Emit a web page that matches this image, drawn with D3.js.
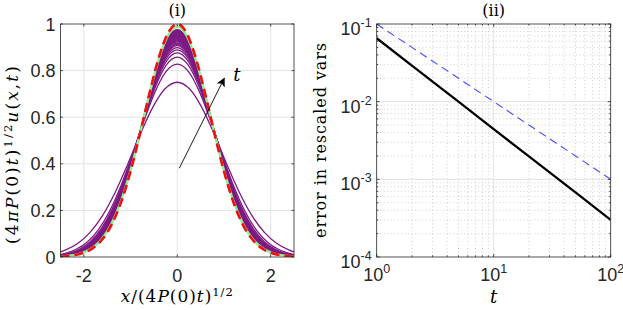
<!DOCTYPE html>
<html><head><meta charset="utf-8">
<script src="https://cdn.jsdelivr.net/npm/d3@7"></script>
<style>body{margin:0;background:#fff}svg{display:block}</style>
</head><body>
<svg id="c" width="623" height="310"></svg>
<script>
// ---------- data ----------
// peak heights of the purple profiles (earliest to latest t)
const peakHeights = [0.750,0.828,0.858,0.876,0.889,0.899,0.907,0.913,0.918,0.923,0.927,0.931,0.934,0.937,0.940,0.943,0.945,0.948,0.950,0.952,0.954,0.956,0.958,0.960,0.962,0.964,0.966,0.968,0.970,0.972,0.974,0.976];
const greenPeak = 0.988;   // light green profile
const redPeak = 1.0;       // red dashed limit profile
// shape of the limit profile (|x| samples and heights)
const profileX = [0,0.2,0.4,0.6,0.8,1.0,1.2,1.4,1.6,1.8,2.0,2.2,2.4,2.6,2.8,3.0,3.4];
const profileY = [1,0.961,0.852,0.698,0.527,0.368,0.237,0.141,0.077,0.039,0.018,0.008,0.003,0.0012,0.0004,0.0001,0.0];
// panel (ii)
const tVals   = [1, 2, 5, 10, 20, 50, 100];
const errVals = [0.0655, 0.0291, 0.0100, 0.00444, 0.00197, 0.00068, 0.00030];
const refVals = [0.1, 0.05, 0.02, 0.01, 0.005, 0.002, 0.001];
// ticks
const xTicksL = [-2, 0, 2];
const yTicksL = [0, 0.2, 0.4, 0.6, 0.8, 1];
const xTicksR = [1, 10, 100];
const xExpR = ["0", "1", "2"];
const yTicksR = [1e-4, 1e-3, 1e-2, 1e-1];
const yExpR = ["-4", "-3", "-2", "-1"];

// ---------- layout ----------
const svg = d3.select("#c");
const axisCol = "#262626";
const gridCol = "#e3e3e3";
const tickFont = "'Liberation Sans', Arial, Helvetica, sans-serif";
const serif = "'DejaVu Serif', 'Liberation Serif', serif";

const L = {x0: 60.5, x1: 294, y0: 24, y1: 257};
const R = {x0: 376.7, x1: 610.7, y0: 24, y1: 257};

const xL = d3.scaleLinear().domain([-2.5, 2.5]).range([L.x0, L.x1]);
const yL = d3.scaleLinear().domain([0, 1]).range([L.y1, L.y0]);
const xR = d3.scaleLog().domain([1, 100]).range([R.x0, R.x1]);
const yR = d3.scaleLog().domain([1e-4, 1e-1]).range([R.y1, R.y0]);

const defs = svg.append("defs");
defs.append("clipPath").attr("id", "clipL").append("rect")
  .attr("x", L.x0).attr("y", L.y0 - 2).attr("width", L.x1 - L.x0).attr("height", L.y1 - L.y0 + 2);
defs.append("clipPath").attr("id", "clipR").append("rect")
  .attr("x", R.x0).attr("y", R.y0).attr("width", R.x1 - R.x0).attr("height", R.y1 - R.y0);
defs.append("marker").attr("id", "arrowHead").attr("viewBox", "0 0 10 10")
  .attr("refX", 9).attr("refY", 5).attr("markerWidth", 9).attr("markerHeight", 9)
  .attr("markerUnits", "userSpaceOnUse").attr("orient", "auto")
  .append("path").attr("d", "M0,0 L10,5 L0,10 L2.5,5 Z").attr("fill", "#000");

// ---------- panel (i) ----------
const gL = svg.append("g");
gL.selectAll(".gx").data(xTicksL).join("line")
  .attr("x1", d => xL(d)).attr("x2", d => xL(d)).attr("y1", L.y0).attr("y2", L.y1)
  .attr("stroke", gridCol).attr("stroke-width", 1);
gL.selectAll(".gy").data(yTicksL.filter(d => d > 0 && d < 1)).join("line")
  .attr("x1", L.x0).attr("x2", L.x1).attr("y1", d => yL(d)).attr("y2", d => yL(d))
  .attr("stroke", gridCol).attr("stroke-width", 1);

function profilePoints(a) {
  const pts = [];
  for (let i = profileX.length - 1; i > 0; i--) pts.push([-profileX[i] / a, a * profileY[i]]);
  for (let i = 0; i < profileX.length; i++) pts.push([profileX[i] / a, a * profileY[i]]);
  return pts;
}
const lineL = d3.line().x(d => xL(d[0])).y(d => yL(d[1])).curve(d3.curveMonotoneX);
const curves = gL.append("g").attr("clip-path", "url(#clipL)");
curves.selectAll(".purple").data(peakHeights).join("path")
  .attr("d", a => lineL(profilePoints(a)))
  .attr("fill", "none").attr("stroke", "#7e1a84").attr("stroke-width", 1.3);
curves.append("path").attr("d", lineL(profilePoints(greenPeak)))
  .attr("fill", "none").attr("stroke", "#8ff08f").attr("stroke-width", 2.4);
curves.append("path").attr("d", lineL(profilePoints(redPeak)))
  .attr("fill", "none").attr("stroke", "#f01010").attr("stroke-width", 2.6)
  .attr("stroke-dasharray", "9,5");

gL.append("rect").attr("x", L.x0).attr("y", L.y0).attr("width", L.x1 - L.x0).attr("height", L.y1 - L.y0)
  .attr("fill", "none").attr("stroke", axisCol).attr("stroke-width", 0.8);
const tl = 2.5;
xTicksL.forEach(d => {
  gL.append("line").attr("x1", xL(d)).attr("x2", xL(d)).attr("y1", L.y1).attr("y2", L.y1 - tl).attr("stroke", axisCol).attr("stroke-width", 0.8);
  gL.append("line").attr("x1", xL(d)).attr("x2", xL(d)).attr("y1", L.y0).attr("y2", L.y0 + tl).attr("stroke", axisCol).attr("stroke-width", 0.8);
});
yTicksL.forEach(d => {
  gL.append("line").attr("x1", L.x0).attr("x2", L.x0 + tl).attr("y1", yL(d)).attr("y2", yL(d)).attr("stroke", axisCol).attr("stroke-width", 0.8);
  gL.append("line").attr("x1", L.x1).attr("x2", L.x1 - tl).attr("y1", yL(d)).attr("y2", yL(d)).attr("stroke", axisCol).attr("stroke-width", 0.8);
});
gL.selectAll(".xl").data(xTicksL).join("text")
  .attr("x", d => xL(d)).attr("y", 282).attr("text-anchor", "middle")
  .attr("font-family", tickFont).attr("font-size", 18).attr("fill", "#262626")
  .text(d => d);
gL.selectAll(".yl").data(yTicksL).join("text")
  .attr("x", L.x0 - 5).attr("y", d => yL(d) + 6.5).attr("text-anchor", "end")
  .attr("font-family", tickFont).attr("font-size", 18).attr("fill", "#262626")
  .text(d => d);

// arrow + t
gL.append("line")
  .attr("x1", xL(0.044)).attr("y1", yL(0.381)).attr("x2", xL(1.007)).attr("y2", yL(0.767))
  .attr("stroke", "#000").attr("stroke-width", 0.9).attr("marker-end", "url(#arrowHead)");
gL.append("text").attr("x", xL(1.2)).attr("y", yL(0.757))
  .attr("font-family", serif).attr("font-style", "italic").attr("font-size", 18).text("t");

svg.append("text").attr("x", xL(0)).attr("y", 16).attr("text-anchor", "middle")
  .attr("font-family", serif).attr("font-size", 16).text("(i)");

function mathLabel(g, parts, size) {
  const t = g.append("text").attr("font-family", serif).attr("font-size", size).attr("text-anchor", "middle");
  parts.forEach(p => {
    const ts = t.append("tspan").text(p.s);
    if (p.it) ts.attr("font-style", "italic");
    if (p.sup) ts.attr("font-size", size * 0.68).attr("dy", -size * 0.38);
    if (p.down) ts.attr("dy", size * 0.38);
  });
  return t;
}
function fitLength(t, target) {
  const n = t.text().length;
  const w = t.node().getComputedTextLength();
  t.attr("letter-spacing", Math.max(0, (target - w) / n));
}

const xlabG = svg.append("g").attr("transform", `translate(${xL(0)},302)`);
const xlab = mathLabel(xlabG, [
  {s: "x", it: true}, {s: "/(4"}, {s: "P", it: true}, {s: "(0)"}, {s: "t", it: true}, {s: ")"},
  {s: "1/2", sup: true}
], 17);
fitLength(xlab, 113);

const ylabG = svg.append("g").attr("transform", `translate(18,154) rotate(-90)`);
const ylab = mathLabel(ylabG, [
  {s: "(4"}, {s: "πP", it: true}, {s: "(0)"}, {s: "t", it: true}, {s: ")"},
  {s: "1/2", sup: true}, {s: "u", it: true, down: true}, {s: "("}, {s: "x", it: true}, {s: ","}, {s: "t", it: true}, {s: ")"}
], 17);
fitLength(ylab, 180);

// ---------- panel (ii) ----------
const gR = svg.append("g");
function minorVals(lo, hi) {
  const v = [];
  for (let e = lo; e < hi; e++) for (let m = 2; m <= 9; m++) v.push(m * Math.pow(10, e));
  return v;
}
const xMinor = minorVals(0, 2);
const yMinor = minorVals(-4, -1);
gR.selectAll(".mgx").data(xMinor).join("line")
  .attr("x1", d => xR(d)).attr("x2", d => xR(d)).attr("y1", R.y0).attr("y2", R.y1)
  .attr("stroke", "#c4c4c4").attr("stroke-width", 0.8).attr("stroke-dasharray", "1,2.5");
gR.selectAll(".mgy").data(yMinor).join("line")
  .attr("x1", R.x0).attr("x2", R.x1).attr("y1", d => yR(d)).attr("y2", d => yR(d))
  .attr("stroke", "#c4c4c4").attr("stroke-width", 0.8).attr("stroke-dasharray", "1,2.5");
gR.selectAll(".Mgx").data(xTicksR.slice(1, -1)).join("line")
  .attr("x1", d => xR(d)).attr("x2", d => xR(d)).attr("y1", R.y0).attr("y2", R.y1)
  .attr("stroke", gridCol).attr("stroke-width", 1);
gR.selectAll(".Mgy").data(yTicksR.slice(1, -1)).join("line")
  .attr("x1", R.x0).attr("x2", R.x1).attr("y1", d => yR(d)).attr("y2", d => yR(d))
  .attr("stroke", gridCol).attr("stroke-width", 1);

const lineR = d3.line().x((d, i) => xR(tVals[i])).y(d => yR(d));
const lines = gR.append("g").attr("clip-path", "url(#clipR)");
lines.append("path").attr("d", lineR(refVals)).attr("fill", "none")
  .attr("stroke", "#4a4aff").attr("stroke-width", 1.1).attr("stroke-dasharray", "8,5");
lines.append("path").attr("d", lineR(errVals)).attr("fill", "none")
  .attr("stroke", "#000").attr("stroke-width", 2.3);

gR.append("rect").attr("x", R.x0).attr("y", R.y0).attr("width", R.x1 - R.x0).attr("height", R.y1 - R.y0)
  .attr("fill", "none").attr("stroke", axisCol).attr("stroke-width", 0.8);
function tickX(d, len) {
  gR.append("line").attr("x1", xR(d)).attr("x2", xR(d)).attr("y1", R.y1).attr("y2", R.y1 - len).attr("stroke", axisCol).attr("stroke-width", 0.8);
  gR.append("line").attr("x1", xR(d)).attr("x2", xR(d)).attr("y1", R.y0).attr("y2", R.y0 + len).attr("stroke", axisCol).attr("stroke-width", 0.8);
}
function tickY(d, len) {
  gR.append("line").attr("x1", R.x0).attr("x2", R.x0 + len).attr("y1", yR(d)).attr("y2", yR(d)).attr("stroke", axisCol).attr("stroke-width", 0.8);
  gR.append("line").attr("x1", R.x1).attr("x2", R.x1 - len).attr("y1", yR(d)).attr("y2", yR(d)).attr("stroke", axisCol).attr("stroke-width", 0.8);
}
xTicksR.forEach(d => tickX(d, 3));
xMinor.forEach(d => tickX(d, 1.6));
yTicksR.forEach(d => tickY(d, 3));
yMinor.forEach(d => tickY(d, 1.6));

xTicksR.forEach((d, i) => {
  const t = gR.append("text").attr("x", xR(d)).attr("y", 281).attr("text-anchor", "middle")
    .attr("font-family", tickFont).attr("font-size", 18).attr("fill", "#262626");
  t.append("tspan").text("10");
  t.append("tspan").attr("font-size", 12.5).attr("dy", -8).text(xExpR[i]);
});
yTicksR.forEach((d, i) => {
  const t = gR.append("text").attr("x", R.x0 - 5).attr("y", yR(d) + 11).attr("text-anchor", "end")
    .attr("font-family", tickFont).attr("font-size", 18).attr("fill", "#262626");
  t.append("tspan").text("10");
  t.append("tspan").attr("font-size", 12.5).attr("dy", -8).text(yExpR[i]);
});

svg.append("text").attr("x", xR(10)).attr("y", 16).attr("text-anchor", "middle")
  .attr("font-family", serif).attr("font-size", 16).text("(ii)");
svg.append("text").attr("x", xR(10)).attr("y", 303).attr("text-anchor", "middle")
  .attr("font-family", serif).attr("font-style", "italic").attr("font-size", 18).text("t");
const rl = svg.append("text").attr("transform", `translate(326,140) rotate(-90)`)
  .attr("text-anchor", "middle").attr("font-family", serif).attr("font-size", 16)
  .text("error in rescaled vars");
fitLength(rl, 196);
</script>
</body></html>
